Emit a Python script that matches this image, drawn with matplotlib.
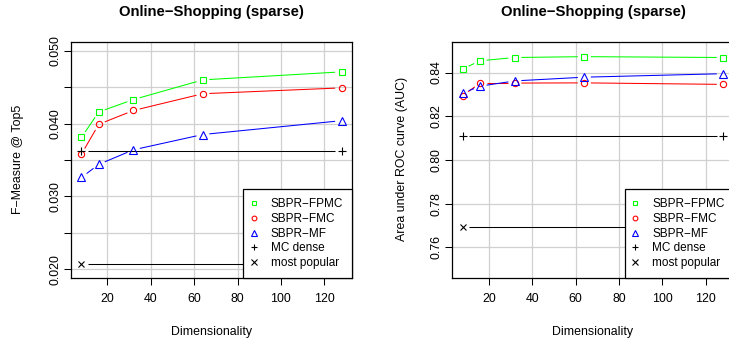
import numpy as np
import matplotlib
matplotlib.use("Agg")
import matplotlib.pyplot as plt
from matplotlib.lines import Line2D

plt.rcParams['font.family'] = ['Liberation Sans', 'DejaVu Sans']

# ---------------- data ----------------
dims = [8, 16, 32, 64, 128]

f_fpmc = [0.0381, 0.0416, 0.0433, 0.0460, 0.0471]
f_fmc = [0.0358, 0.0399, 0.0418, 0.0441, 0.0449]
f_mf = [0.0326, 0.0344, 0.0364, 0.0385, 0.0404]
f_mc_dense = 0.0363
f_most_pop = 0.0207

auc_fpmc = [0.8417, 0.8454, 0.8469, 0.8473, 0.8469]
auc_fmc = [0.8295, 0.8352, 0.8352, 0.8353, 0.8346]
auc_mf = [0.8306, 0.8338, 0.8362, 0.8379, 0.8395]
auc_mc_dense = 0.8109
auc_most_pop = 0.7693

series_names = ["SBPR\u2212FPMC", "SBPR\u2212FMC", "SBPR\u2212MF", "MC dense", "most popular"]
series_colors = ["#00ff00", "#ff0000", "#0000ff", "black", "black"]
series_markers = ["s", "o", "^", "+", "x"]

title = "Online\u2212Shopping (sparse)"
xlabel = "Dimensionality"
ylabel_left = "F\u2212Measure @ Top5"
ylabel_right = "Area under ROC curve (AUC)"

W, H = 729, 342
fig = plt.figure(figsize=(W / 100, H / 100), dpi=100)

FS = 8.9
GAP = 6.5
LW = 0.75


def px_box(x0, y0, x1, y1):
    return [x0 / W, 1 - y1 / H, (x1 - x0) / W, (y1 - y0) / H]


def gapped(ax, xs, ys, color):
    trans = ax.transData
    pts = trans.transform(np.column_stack([xs, ys]))
    inv = trans.inverted()
    for p0, p1 in zip(pts[:-1], pts[1:]):
        d = p1 - p0
        L = np.hypot(*d)
        if L <= 2 * GAP:
            continue
        u = d / L
        a = inv.transform(p0 + u * GAP)
        b = inv.transform(p1 - u * GAP)
        ax.plot([a[0], b[0]], [a[1], b[1]], color=color, lw=LW, zorder=3,
                solid_capstyle='butt')


def msize(m):
    return {"s": 4.4, "o": 4.5, "^": 5.6, "+": 6.0, "x": 4.8}[m]


def legsize(m):
    return {"s": 3.2, "o": 3.4, "^": 4.2, "+": 5.0, "x": 4.3}[m]


def panel(rect, ys_list, mc, mp, ylim, yticks, yticklabels, ylab, ylab_x, cx):
    ax = fig.add_axes(rect)
    lo, hi = ylim
    ext = (hi - lo) * 0.04
    ax.set_ylim(lo - ext, hi + ext)
    xext = (dims[-1] - dims[0]) * 0.04
    ax.set_xlim(dims[0] - xext, dims[-1] + xext)
    xt = [20, 40, 60, 80, 100, 120]
    ax.set_xticks(xt)
    ax.set_xticklabels([str(v) for v in xt], fontsize=FS)
    ax.set_yticks(yticks)
    ax.set_yticklabels(yticklabels, fontsize=FS, rotation=90, va='center')
    for v in xt:
        ax.axvline(v, color='#d0d0d0', lw=0.9, zorder=1)
    for v in yticks:
        ax.axhline(v, color='#d0d0d0', lw=0.9, zorder=1)
    ax.tick_params(axis='both', length=5, width=0.75, color='black', direction='out')
    ax.tick_params(axis='x', pad=6)
    ax.tick_params(axis='y', pad=2)
    for s in ax.spines.values():
        s.set_linewidth(0.9)
        s.set_color('black')
    # series
    for ys, c, m in zip(ys_list, series_colors[:3], series_markers[:3]):
        gapped(ax, dims, ys, c)
        ax.plot(dims, ys, linestyle='none', marker=m, ms=msize(m), mfc='none',
                mec=c, mew=0.8, zorder=4)
    for val, m in ((mc, "+"), (mp, "x")):
        xs = [dims[0], dims[-1]]
        ys = [val, val]
        gapped(ax, xs, ys, 'black')
        ax.plot(xs, ys, linestyle='none', marker=m, ms=msize(m), mec='black',
                mew=0.8, zorder=4)
    handles = [Line2D([], [], linestyle='none', marker=m, color=c, mfc='none',
                      mec=c, mew=0.8, ms=legsize(m))
               for m, c in zip(series_markers, series_colors)]
    leg = ax.legend(handles, series_names, loc='lower right',
                    bbox_to_anchor=(1, 0), borderaxespad=0, fontsize=8.5,
                    frameon=True, fancybox=False, framealpha=1,
                    edgecolor='black', borderpad=0.75, handlelength=0.3,
                    handletextpad=1.3, labelspacing=0.23)
    leg.get_frame().set_linewidth(0.9)
    leg.set_zorder(10)
    # texts
    fig.text(cx / W, 1 - 12 / H, title, ha='center', va='center',
             fontsize=10.7, fontweight='bold')
    fig.text(cx / W, 1 - 332 / H, xlabel, ha='center', va='center', fontsize=FS)
    fig.text(ylab_x / W, 1 - 159 / H, ylab, ha='center', va='center',
             rotation=90, fontsize=FS)
    return ax


panel(px_box(71, 42, 352, 278), [f_fpmc, f_fmc, f_mf], f_mc_dense, f_most_pop,
      (0.02, 0.05),
      [0.020, 0.025, 0.030, 0.035, 0.040, 0.045, 0.050],
      ["0.020", "", "0.030", "", "0.040", "", "0.050"],
      ylabel_left, 18, 211.5)

panel(px_box(452.3, 42, 733.7, 278), [auc_fpmc, auc_fmc, auc_mf], auc_mc_dense,
      auc_most_pop, (0.75, 0.85),
      [0.76, 0.78, 0.80, 0.82, 0.84],
      ["0.76", "0.78", "0.80", "0.82", "0.84"],
      ylabel_right, 401.7, 593)

fig.savefig("out.png", dpi=100)
